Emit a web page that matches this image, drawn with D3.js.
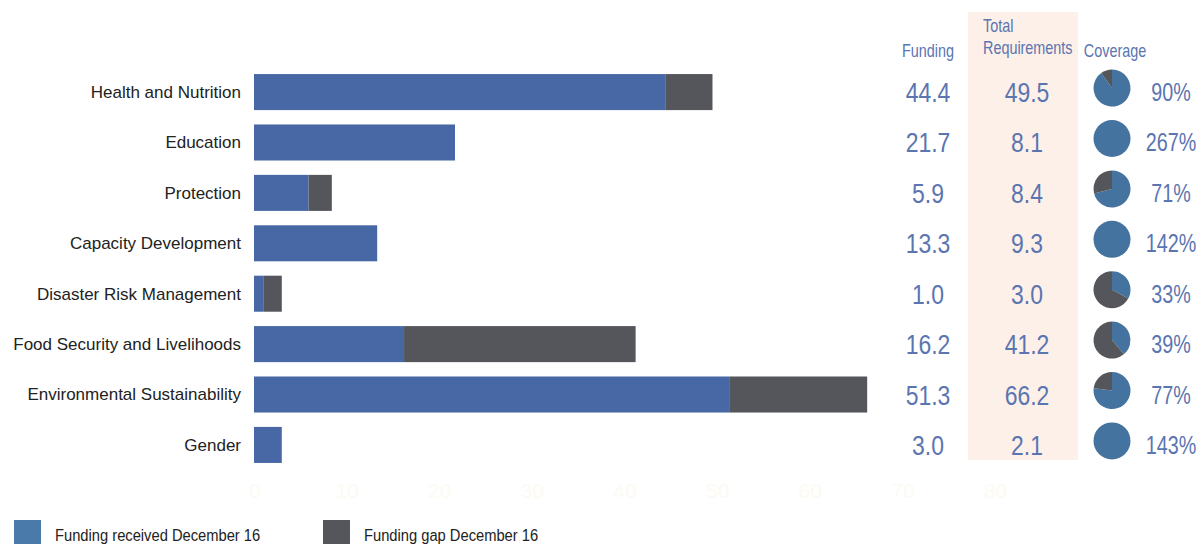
<!DOCTYPE html>
<html>
<head>
<meta charset="utf-8">
<script src="https://cdn.jsdelivr.net/npm/d3@7"></script>
<style>
  body { margin: 0; background: #fff; }
  svg { display: block; }
</style>
</head>
<body>
<div id="chart"></div>
<script>
const categories = ['Health and Nutrition', 'Education', 'Protection', 'Capacity Development',
  'Disaster Risk Management', 'Food Security and Livelihoods', 'Environmental Sustainability', 'Gender'];
const funding = [44.4, 21.7, 5.9, 13.3, 1.0, 16.2, 51.3, 3.0];
const requirements = [49.5, 8.1, 8.4, 9.3, 3.0, 41.2, 66.2, 2.1];
const coverage = [90, 267, 71, 142, 33, 39, 77, 143];
const xTicks = [0, 10, 20, 30, 40, 50, 60, 70, 80];
const legendLabels = ['Funding received December 16', 'Funding gap December 16'];

const width = 1201, height = 544;
const blue = '#4868a5', gap = '#55565c', pieBlue = '#44739f', numBlue = '#5a75b0';
const font = '"Liberation Sans", Arial, sans-serif';

const svg = d3.select('#chart').append('svg')
    .attr('width', width).attr('height', height)
    .style('font-family', font);

const x = d3.scaleLinear().domain([0, 80]).range([254, 995]);
const y = d3.scaleBand().domain(categories).range([67, 470]).paddingInner(0.285).paddingOuter(0.14);
const cy = d => y(d) + y.bandwidth() / 2;

// condensed text: no narrow font installed, so squeeze horizontally
function narrowText(parent, tx, ty, sx, size, anchor) {
    return parent.append('text')
        .attr('transform', `translate(${tx}, ${ty}) scale(${sx}, 1)`)
        .attr('text-anchor', anchor || 'start')
        .style('font-size', size + 'px');
}

// pink band behind total requirements column
svg.append('rect')
    .attr('x', 968).attr('y', 12).attr('width', 110).attr('height', 448)
    .attr('fill', '#fdf0e9');

// faint axis (almost invisible in the original)
const xAxis = svg.append('g')
    .attr('transform', `translate(0, ${480})`)
    .call(d3.axisBottom(x).tickValues(xTicks).tickSize(0).tickPadding(0));
xAxis.select('.domain').remove();
xAxis.selectAll('text')
    .attr('fill', '#fcfaf2')
    .attr('dy', '0.85em')
    .style('font-family', font)
    .style('font-size', '21px');

// bars
const rows = svg.append('g').selectAll('g').data(categories).join('g');

rows.append('rect')
    .attr('x', x(0))
    .attr('y', d => y(d))
    .attr('width', (d, i) => x(funding[i]) - x(0))
    .attr('height', y.bandwidth())
    .attr('fill', blue);

rows.each(function (d, i) {
    if (requirements[i] <= funding[i]) return;
    d3.select(this).append('rect')
        .attr('x', x(funding[i]))
        .attr('y', y(d))
        .attr('width', x(requirements[i]) - x(funding[i]))
        .attr('height', y.bandwidth())
        .attr('fill', gap);
});

// category labels
rows.append('text')
    .attr('x', 241)
    .attr('y', cy)
    .attr('dy', '0.35em')
    .attr('text-anchor', 'end')
    .attr('fill', '#222')
    .style('font-size', '17px')
    .text(d => d);

// column headers
const header = svg.append('g').attr('fill', numBlue);
narrowText(header, 928, 57, 0.8, 18, 'middle').text('Funding');
narrowText(header, 983, 32, 0.8, 18).text('Total');
narrowText(header, 983, 54, 0.8, 18).text('Requirements');
narrowText(header, 1115, 57, 0.8, 18, 'middle').text('Coverage');

// numbers
rows.each(function (d, i) {
    const g = d3.select(this).append('g').attr('fill', numBlue);
    narrowText(g, 928, cy(d) + 10, 0.82, 28, 'middle').text(funding[i].toFixed(1));
    narrowText(g, 1027, cy(d) + 10, 0.82, 28, 'middle').text(requirements[i].toFixed(1));
    narrowText(g, 1171, cy(d) + 9, 0.76, 26, 'middle').text(coverage[i] + '%');
});

// coverage pies
const pie = d3.pie().sort(null);
const arc = d3.arc().innerRadius(0).outerRadius(18.5);
rows.each(function (d, i) {
    const c = Math.min(coverage[i], 100);
    d3.select(this).append('g')
        .attr('transform', `translate(1112, ${cy(d) - 4})`)
        .selectAll('path')
        .data(pie([c, 100 - c]))
        .join('path')
        .attr('d', arc)
        .attr('fill', (p, j) => j === 0 ? pieBlue : gap);
});

// legend
const legend = svg.append('g').attr('fill', '#222');
const legendX = [14, 323];
legendLabels.forEach((label, i) => {
    legend.append('rect')
        .attr('x', legendX[i]).attr('y', 520).attr('width', 27).attr('height', 26)
        .attr('fill', i === 0 ? '#4a7aaa' : gap);
    narrowText(legend, legendX[i] + 41, 541, 0.92, 16).text(label);
});
</script>
</body>
</html>
